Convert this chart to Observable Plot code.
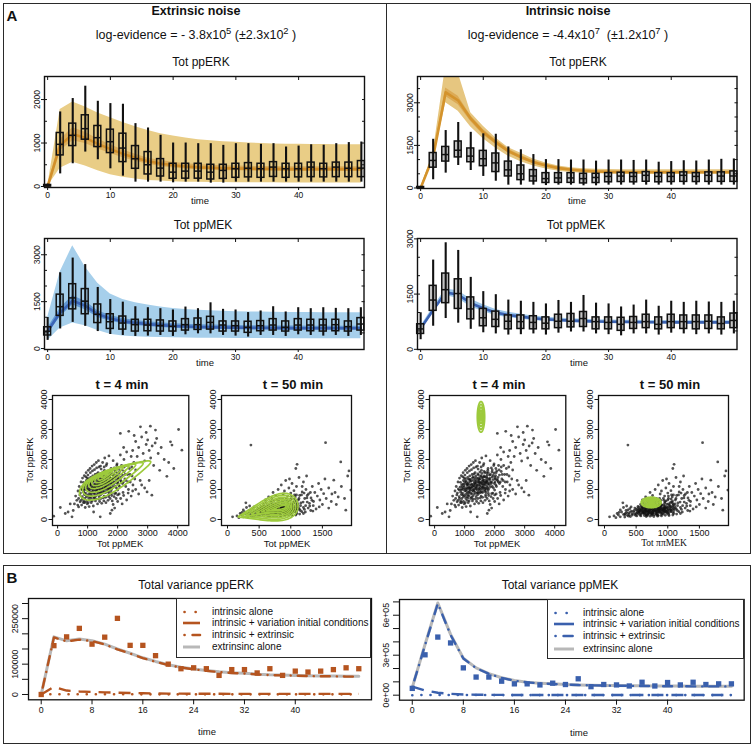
<!DOCTYPE html>
<html><head><meta charset="utf-8">
<script src="https://cdn.jsdelivr.net/npm/d3@7"></script>
<script src="https://cdn.jsdelivr.net/npm/@observablehq/plot@0.6"></script>
<style>
body{margin:0;background:#fff;}
#root{position:relative;width:754px;height:746px;overflow:hidden;font-family:"Liberation Sans",Arial,Helvetica,sans-serif;color:#111;background:#fff;}
.t{position:absolute;white-space:nowrap;transform:translate(-50%,-50%);line-height:1;}
.l{position:absolute;white-space:nowrap;transform:translate(0,-50%);line-height:1;}
.bx{position:absolute;border:1.5px solid #2a2a2a;box-sizing:border-box;}
sup{font-size:0.75em;vertical-align:0.5em;line-height:0;}
</style></head><body><div id="root"></div>
<script>
// ---------------- DATA ----------------
const times = [0,2,4,6,8,10,12,14,16,18,20,22,24,26,28,30,32,34,36,38,40,42,44,46,48,50];

// experimental boxplots (Tot ppERK)
const erkLo  = [0, 290, 523, 792, 615, 407, 238, 100, 100, 100, 85, 100, 100, 77, 77, 100, 100, 100, 100, 100, 100, 100, 100, 100, 100, 100];
const erkQ1  = [0, 715, 930, 1077, 907, 769, 561, 407, 277, 230, 177, 180, 180, 161, 175, 200, 210, 200, 220, 200, 210, 215, 210, 215, 215, 215];
const erkMed = [15, 970, 1177, 1330, 1123, 1030, 884, 638, 500, 423, 330, 354, 354, 330, 370, 408, 420, 408, 446, 408, 408, 446, 408, 446, 420, 423];
const erkQ3  = [35, 1231, 1446, 1638, 1392, 1307, 1215, 930, 792, 630, 523, 523, 523, 500, 500, 523, 538, 523, 560, 523, 523, 550, 523, 550, 550, 585];
const erkHi  = [55, 1715, 2023, 2307, 1960, 1907, 1892, 1446, 1346, 1177, 1000, 1000, 985, 985, 946, 985, 985, 970, 985, 908, 930, 960, 950, 985, 1010, 1023];
// experimental boxplots (Tot ppMEK)
const mekLo  = [261, 627, 836, 710, 543, 449, 418, 387, 397, 418, 387, 439, 470, 470, 418, 397, 366, 418, 418, 387, 439, 418, 397, 418, 387, 418];
const mekQ1  = [418, 1045, 1254, 1097, 815, 627, 606, 543, 553, 543, 543, 575, 596, 606, 543, 543, 502, 553, 575, 543, 575, 553, 543, 553, 543, 575];
const mekMed = [554, 1338, 1620, 1515, 1097, 857, 815, 763, 752, 731, 710, 763, 763, 836, 752, 731, 679, 731, 752, 679, 752, 752, 752, 763, 700, 784];
const mekQ3  = [680, 1724, 2058, 1902, 1410, 1097, 1024, 920, 920, 899, 867, 940, 961, 1014, 867, 867, 857, 878, 940, 867, 940, 920, 920, 920, 867, 972];
const mekHi  = [993, 2424, 2894, 2686, 1954, 1567, 1484, 1337, 1306, 1275, 1233, 1327, 1275, 1463, 1254, 1233, 1150, 1202, 1337, 1170, 1306, 1275, 1306, 1285, 1275, 1306];

// extrinsic-noise model, ppERK
const extErkMean  = [0, 950, 1200, 1120, 980, 860, 750, 660, 580, 530, 490, 460, 440, 430, 420, 415, 410, 405, 405, 400, 400, 400, 400, 400, 400, 400];
const extErkInLo  = [0, 820, 1050, 990, 870, 760, 660, 580, 510, 460, 425, 400, 385, 375, 365, 360, 355, 350, 350, 345, 345, 345, 345, 345, 345, 345];
const extErkInHi  = [0, 1080, 1350, 1250, 1090, 960, 840, 740, 650, 600, 555, 525, 505, 490, 480, 470, 465, 460, 460, 455, 455, 455, 455, 455, 455, 455];
const extErkOutLo = [0, 420, 560, 470, 360, 270, 210, 170, 140, 125, 110, 100, 95, 92, 90, 88, 86, 85, 84, 83, 82, 82, 81, 80, 80, 80];
const extErkOutHi = [0, 1769, 1946, 1830, 1692, 1580, 1470, 1375, 1290, 1215, 1161, 1115, 1077, 1050, 1030, 1015, 1000, 990, 980, 972, 969, 966, 964, 962, 961, 960];
// extrinsic-noise model, ppMEK
const extMekMean  = [550, 1150, 1530, 1370, 1100, 960, 870, 820, 780, 750, 720, 705, 690, 680, 675, 670, 665, 660, 655, 652, 650, 650, 650, 650, 650, 650];
const extMekInLo  = [460, 1020, 1390, 1240, 990, 870, 790, 740, 705, 675, 650, 635, 620, 612, 605, 600, 595, 592, 590, 588, 586, 585, 585, 585, 585, 585];
const extMekInHi  = [650, 1290, 1690, 1510, 1210, 1060, 960, 900, 860, 825, 795, 775, 760, 750, 742, 736, 730, 726, 722, 720, 718, 716, 715, 715, 715, 715];
const extMekOutLo = [260, 658, 815, 731, 575, 460, 400, 375, 360, 350, 342, 336, 332, 328, 325, 322, 320, 318, 317, 316, 315, 314, 314, 313, 313, 313];
const extMekOutHi = [993, 2450, 3290, 2612, 2090, 1745, 1567, 1463, 1390, 1330, 1280, 1250, 1225, 1205, 1190, 1180, 1172, 1166, 1160, 1156, 1153, 1150, 1148, 1147, 1146, 1145];
// intrinsic-noise model, ppERK
const intErkMean  = [0, 1100, 3370, 3080, 2440, 1965, 1610, 1300, 1085, 910, 790, 700, 640, 605, 580, 565, 558, 556, 555, 555, 555, 555, 555, 555, 555, 555];
const intErkInLo  = [0, 1040, 3220, 2930, 2340, 1870, 1530, 1230, 1020, 860, 745, 660, 605, 570, 545, 530, 523, 521, 520, 520, 520, 520, 520, 520, 520, 520];
const intErkInHi  = [0, 1160, 3520, 3230, 2540, 2060, 1690, 1370, 1150, 960, 835, 740, 675, 640, 615, 600, 593, 590, 589, 589, 589, 589, 589, 589, 589, 589];
const intErkOutLo = [0, 950, 3000, 2700, 2150, 1730, 1400, 1120, 920, 770, 665, 590, 545, 515, 498, 490, 485, 482, 480, 480, 480, 480, 480, 480, 480, 480];
const intErkOutHi = [0, 1250, 4300, 4050, 2650, 2170, 1760, 1420, 1220, 1020, 880, 770, 710, 680, 660, 650, 645, 642, 640, 640, 640, 640, 640, 640, 640, 640];
// intrinsic-noise model, ppMEK
const intMekMean  = [567, 1070, 1546, 1482, 1253, 1116, 997, 933, 887, 842, 814, 795, 778, 765, 755, 750, 745, 740, 737, 735, 733, 732, 732, 732, 732, 732];
const intMekOutLo = [520, 990, 1460, 1380, 1150, 1025, 915, 862, 820, 780, 758, 740, 726, 715, 706, 702, 698, 693, 690, 688, 686, 685, 685, 685, 685, 685];
const intMekOutHi = [620, 1150, 1640, 1590, 1360, 1210, 1080, 1005, 955, 905, 870, 850, 830, 815, 805, 798, 792, 788, 784, 782, 780, 779, 779, 779, 779, 779];

// single-cell measurements [Tot ppMEK, Tot ppERK]
const cellsT4 = [
[820,760],[870,910],[900,1020],[940,820],[980,1120],[1010,950],[1040,700],[1060,1230],[1090,880],[1110,1050],
[1130,1340],[1150,790],[1180,1160],[1200,980],[1220,1280],[1240,860],[1260,1090],[1280,1420],[1300,940],[1320,1200],
[1340,1050],[1360,1330],[1380,760],[1400,1140],[1420,980],[1440,1260],[1460,1480],[1480,870],[1500,1100],[1520,1350],
[1540,1000],[1560,1220],[1580,1540],[1600,900],[1620,1150],[1640,1300],[1660,1060],[1680,1420],[1700,820],[1720,1250],
[1740,1100],[1760,1380],[1780,960],[1800,1200],[850,1080],[910,700],[960,1300],[1000,1180],[1030,840],[1070,1000],
[1100,1400],[1120,720],[1160,930],[1190,1270],[1230,1060],[1250,1500],[1270,780],[1310,1120],[1330,1390],[1350,900],
[1390,1220],[1410,1060],[1430,820],[1450,1330],[1470,1180],[1490,960],[1510,1580],[1530,1240],[1550,780],[1570,1090],
[1590,1390],[1610,1000],[1630,1240],[1650,1600],[1670,940],[1690,1160],[1710,1330],[1730,1010],[1750,1480],[1770,1180],
[1790,870],[950,1000],[1080,1150],[1170,1050],[1290,1000],[1370,1450],[1470,1020],[1580,1180],[1690,1040],[1760,1260],
[900,1150],[930,880],[970,1060],[1000,780],[1030,1350],[1060,940],[1090,1180],[1110,820],[1140,1080],[1170,1450],
[1200,870],[1230,1150],[1260,960],[1290,1300],[1320,840],[1350,1180],[1380,1020],[1410,1380],[1440,900],[1470,1260],
[1500,1040],[1530,1430],[1560,920],[1590,1280],[1620,1080],[1650,1450],[1680,980],[1710,1220],[1740,1560],[1770,1060],
[1800,1340],[1830,1150],[1860,1500],[1890,1200],[1920,1650],[1950,1330],[1980,1550],[2010,1250],[2040,1700],[2070,1330],
[1000,1250],[1060,1060],[1130,1230],[1190,1340],[1250,1180],[1310,1520],[1370,1280],[1430,1140],[1490,1330],[1550,1460],
[1610,1320],[1670,1240],[1730,1420],[1790,1560],[1850,1380],[880,980],[940,1180],[1160,1000],[1340,1240],[1520,1150],
[760,880],[790,1020],[830,700],[860,1240],[890,830],[920,1090],[960,760],[990,1380],[1020,1010],[1050,1280],
[1080,760],[1110,1160],[1140,900],[1170,1330],[1200,1060],[1230,740],[1260,1380],[1290,1130],[1320,980],[1350,1560],
[1380,1090],[1410,880],[1440,1520],[1470,1380],[1500,1230],[1530,900],[1560,1640],[1590,1060],[1620,1410],[1650,1170],
[1680,1560],[1710,900],[1740,1280],[1770,1640],[1800,1020],[1830,1480],[1860,1250],[1890,1720],[1920,1100],[1950,1470],
[1980,1850],[2010,1400],[2040,1150],[2070,1620],[2100,1300],[2130,1800],[2160,1480],[2190,1250],[2220,1750],[2250,1500],
[940,1420],[1010,1480],[1090,1560],[1160,1620],[1230,1660],[1300,1720],[1380,1750],[1450,1680],[1550,1750],[1620,1800],
[700,700],[740,820],[780,640],[820,980],[870,620],[900,560],[960,600],[1020,560],[1080,640],[1150,620],
[1210,700],[1280,680],[1360,680],[1440,700],[1520,720],[1600,740],[1700,760],[1800,800],[1900,860],[2000,820],
[560,520],[600,780],[640,640],[680,950],[700,420],[720,1100],[750,590],[780,1250],[800,480],[830,1380],
[860,560],[890,1460],[920,400],[950,1560],[990,520],[1020,1640],[1050,430],[1080,1700],[1120,560],[1150,1780],
[1190,450],[1220,1830],[1260,620],[1290,1900],[1330,520],[1360,1960],[1400,600],[1430,1780],[1470,540],[1500,1900],
[1540,620],[1570,2050],[1610,560],[1640,1860],[1680,640],[1710,2120],[1750,700],[1780,1700],[1820,620],[1850,1960],
[1880,760],[1910,1580],[1940,880],[1970,1800],[2000,980],[2030,1460],[2060,1100],[2090,2150],[2120,1250],[2150,1650],
[2180,900],[2210,2000],[2240,1350],[2270,1100],[2300,1800],[2330,1500],[2360,1000],[2390,1700],[2420,1250],[2450,2100],
[2480,1450],[2510,1150],[2540,1900],[2570,1350],[2600,1650],[1900,1250],[1960,1050],[2020,1350],[1860,1080],[1920,1420],
[1840,1330],[1990,1200],[2050,1560],[2110,1400],[2160,1200],[2220,1600],[2280,1300],[2350,1250],[2410,1500],[2470,1750],
[2090,2870],[2370,2940],[2760,3090],[3090,3110],[3260,2980],[4030,3000],[4140,2310],[3810,2480],[3870,1700],[3640,1440],
[3400,1640],[3760,2590],[2200,2400],[2300,2250],[2500,2300],[2600,2600],[2650,2100],[2700,2400],[2800,2750],[2850,2200],
[2900,1950],[2950,2500],[3000,2650],[3050,2300],[3100,2050],[3150,2450],[3200,1800],[3300,2700],[3350,2200],[3450,2400],
[3550,2000],[2550,2800],[2950,2900],[3250,2550],[3700,1900],
[1850,500],[1900,380],[1950,700],[2000,600],[2050,850],[2100,700],[2150,520],[2200,800],[2300,650],[2350,880],
[2450,780],[2500,950],[2600,1000],[2700,850],[2800,1150],[2900,1050],[2980,920],[3140,810],[3050,1300],[2750,1300],
[-130,110],[90,400],[255,200],[480,90],[670,480],[1420,90],[1755,200],[1810,310],[350,250],[420,520],[520,300],[1200,250]
];
const cellsT50 = [
[460,250],[480,180],[500,330],[520,220],[540,400],[560,150],[570,290],[590,360],[600,210],[620,470],
[630,130],[640,310],[660,250],[670,420],[690,180],[700,350],[710,520],[720,240],[740,300],[750,140],
[760,450],[770,220],[780,380],[800,280],[810,560],[820,170],[830,330],[850,420],[860,230],[870,610],
[880,300],[900,160],[910,480],[920,360],[940,250],[950,540],[960,320],[980,420],[990,200],[1000,650],
[1010,350],[1030,480],[1050,260],[1060,580],[1080,400],[1100,300],[480,380],[510,120],[530,300],[550,270],
[580,430],[610,330],[650,190],[680,300],[700,230],[730,410],[740,210],[760,330],[790,160],[800,480],
[820,260],[840,370],[850,140],[870,340],[890,450],[900,260],[930,300],[940,420],[970,280],[990,510],
[1020,230],[1040,390],[1070,330],[1090,500],[560,350],[600,280],[640,390],[680,240],[720,460],[760,270],
[790,410],[830,200],[860,500],[890,370],[930,180],[960,450],[1000,300],[1040,560],[1080,240],[1110,440],
[620,200],[660,360],[700,290],[740,520],[780,310],[820,440],[860,300],[900,400],[950,360],[1010,430],
[500,200],[520,360],[545,250],[575,180],[590,420],[615,260],[635,340],[655,150],[675,380],[695,270],
[715,330],[735,180],[755,390],[775,250],[795,340],[815,210],[835,470],[855,270],[875,390],[895,220],
[915,330],[935,480],[955,240],[975,370],[995,290],[1015,520],[1035,300],[1055,420],[1075,550],[1095,360],
[560,230],[600,380],[640,280],[680,160],[720,380],[760,200],[800,380],[840,260],[880,460],[920,280],
[960,390],[1000,230],[1040,340],[1080,470],[1120,380],[650,420],[700,460],[750,240],[850,360],[950,290],
[580,320],[620,240],[660,300],[700,200],[740,360],[780,440],[820,320],[860,410],[900,320],[940,380],
[320,160],[350,230],[380,110],[410,250],[440,190],[470,300],[490,140],[515,270],[535,190],[555,330],
[575,120],[595,250],[615,390],[635,210],[655,280],[675,130],[695,410],[715,280],[735,350],[755,170],
[775,300],[795,460],[815,280],[835,150],[855,330],[875,250],[895,500],[915,200],[935,340],[955,580],
[975,250],[995,380],[1015,170],[1035,440],[1055,300],[1075,620],[1095,200],[1115,520],[1135,350],[1155,460],
[1175,260],[1195,580],[1215,340],[1235,460],[1255,720],[1275,380],[1295,540],[1315,300],[1335,640],[1355,460],
[530,440],[570,500],[610,560],[650,500],[690,560],[730,620],[770,540],[810,620],[850,580],[890,640],
[930,700],[970,620],[1010,780],[1050,680],[1090,820],[1130,700],[1170,820],[1210,880],[1260,800],[1310,900],
[660,100],[720,110],[780,100],[840,110],[900,120],[960,140],[1020,130],[1080,150],[1140,180],[1200,200],
[80,90],[200,200],[290,555],[150,120],[180,60],[220,150],[250,90],[270,250],[300,170],[320,80],
[340,300],[360,140],[380,220],[400,360],[410,100],[430,280],[250,320],[300,400],[350,450],[390,170],
[420,420],[440,150],[230,240],[330,200],[370,320],
[1120,650],[1140,800],[1160,550],[1180,920],[1200,400],[1220,700],[1240,1000],[1260,580],[1280,850],[1300,450],
[1320,720],[1340,1100],[1360,600],[1380,900],[1400,350],[1420,780],[1440,1200],[1460,650],[1480,1000],[1500,500],
[1520,860],[1540,1350],[1560,700],[1600,1050],[1640,600],[1680,1310],[1700,900],[1750,750],[1800,1100],[1870,310],
[1950,980],[1920,1620],[1790,1920],[1550,2560],[370,2480],[1100,1840],[1080,1700],[1130,1400],[1200,1250],[1250,1450],
[1150,300],[1230,250],[1350,280],[1450,420],[1600,380],[1650,850],[1720,500],[1850,700],[1900,1450],[1180,1100],
[600,650],[650,750],[700,700],[720,900],[760,800],[800,1000],[820,700],[850,1150],[880,850],[900,950],
[920,1300],[950,780],[970,1050],[1000,880],[1020,1200],[1050,960],[1070,750],[1090,1100],[680,600],[780,650],
[870,700],[940,640],[1010,700],[1060,820],[980,1350]
];

// model density contours: [MEK end1, ERK end1, MEK end2, ERK end2, half-width (px), egg skew]
const contExtT4 = [
[750,800,3100,1930,10.5,-0.5],[850,900,2850,1880,8.7,-0.5],[950,1000,2600,1830,7.0,-0.5],[1050,1100,2380,1780,5.5,-0.5],
[1150,1180,2180,1730,4.2,-0.5],[1250,1260,2000,1680,3.0,-0.5],[1350,1330,1850,1640,1.8,-0.5],[1450,1400,1720,1590,0.9,-0.5]
];
const contExtT50 = [
[170,90,1110,540,11,0.8],[230,120,1075,520,9.5,0.8],[300,150,1045,500,8,0.8],[380,185,1015,485,6.6,0.8],
[460,220,990,470,5.2,0.8],[540,255,965,460,3.8,0.8],[620,290,945,450,2.5,0.8],[700,320,925,440,1.3,0.8]
];
const contIntT4 = [
[1545,2910,1545,3930,3.7,0],[1545,3000,1545,3840,2.8,0],[1545,3100,1545,3740,2.0,0],[1545,3200,1545,3640,1.2,0],[1545,3310,1545,3530,0.5,0]
];
const contIntT50 = [
[579,567,895,567,5.3,0],[603,567,871,567,4.5,0],[626,567,848,567,3.7,0],[650,567,824,567,2.9,0],
[674,567,800,567,2.1,0],[694,567,780,567,1.4,0],[713,567,761,567,0.8,0]
];

// Panel B: total variance
const erkVarData   = [0, 161000, 190000, 218000, 166000, 189000, 251000, 162000, 162000, 128000, 100000, 85000, 88000, 85000, 63000, 82000, 82000, 71000, 85000, 63000, 77000, 74000, 77000, 82000, 88000, 85000];
const erkVarExt    = [0, 190000, 177000, 183000, 177000, 166000, 150000, 136000, 121000, 109000, 98000, 90000, 84000, 79000, 75000, 72000, 70000, 67000, 65000, 64000, 63000, 62000, 61000, 61000, 60000, 60000];
const erkVarIntExt = [0, 188000, 175000, 181000, 176000, 165000, 149000, 135000, 120000, 108000, 97000, 89000, 83000, 78000, 74000, 71000, 69000, 66000, 64000, 63000, 62000, 61000, 60000, 60000, 59000, 59000];
const erkVarIntIC  = [0, 25000, 13000, 10000, 8500, 7000, 6000, 5000, 4000, 3500, 3000, 3000, 2500, 2500, 2500, 2000, 2000, 2000, 2000, 2000, 2000, 2000, 2000, 2000, 2000, 2000];
const erkVarInt    = [0, 1000, 1000, 900, 800, 700, 600, 600, 500, 500, 500, 500, 500, 500, 500, 500, 500, 500, 500, 500, 500, 500, 500, 500, 500, 500];
const mekVarData   = [51000, 303000, 436000, 392000, 205000, 136000, 136000, 105000, 85000, 85000, 77000, 90000, 80000, 123000, 64000, 80000, 77000, 69000, 97000, 69000, 95000, 77000, 97000, 80000, 85000, 85000];
const mekVarExt    = [59000, 380000, 692000, 456000, 277000, 205000, 162000, 131000, 110000, 97000, 90000, 85000, 80000, 77000, 75000, 73000, 72000, 71000, 70000, 69000, 68000, 68000, 67000, 67000, 67000, 67000];
const mekVarIntExt = [60000, 375000, 688000, 452000, 275000, 203000, 160000, 130000, 109000, 96000, 89000, 84000, 79000, 76000, 74000, 72000, 71000, 70000, 69000, 68000, 67000, 67000, 66000, 66000, 66000, 66000];
const mekVarIntIC  = [64000, 35000, 18000, 10000, 5000, 3500, 2500, 2000, 1500, 1500, 1500, 1500, 1500, 1500, 1500, 1500, 1500, 1500, 1500, 1500, 1500, 1500, 1500, 1500, 1500, 1500];
const mekVarInt    = [0, 1500, 1500, 1200, 1000, 900, 800, 700, 700, 600, 600, 600, 600, 600, 600, 600, 600, 600, 600, 600, 600, 600, 600, 600, 600, 600];

const legendLabels = ["intrinsic alone", "intrinsic + variation initial conditions", "intrinsic + extrinsic", "extrinsinc alone"];
const tsXTicks = [0,10,20,30,40];
const bXTicks = [0,8,16,24,32,40];
const bErkYTicks = [0,50000,100000,150000,200000,250000,300000];
const bErkYLabels = ["0","","100000","","","250000",""];
const bMekYTicks = [0,100000,200000,300000,400000,500000,600000,700000];
const bMekYLabels = ["0e+00","","","3e+05","","","6e+05",""];

// ---------------- HELPERS ----------------
const root = document.getElementById("root");
const FONT = "Liberation Sans, Arial, Helvetica, sans-serif";
function addText(html, x, y, size, o = {}) {
  const d = document.createElement("div");
  d.className = o.left ? "l" : "t";
  d.innerHTML = html;
  d.style.left = x + "px"; d.style.top = y + "px"; d.style.fontSize = size + "px";
  if (o.bold) d.style.fontWeight = "bold";
  if (o.family) d.style.fontFamily = o.family;
  if (o.rotate) d.style.transform = `translate(-50%,-50%) rotate(${o.rotate}deg)`;
  root.appendChild(d);
  return d;
}
function addBox(x0, y0, x1, y1, extra = "") {
  const d = document.createElement("div");
  d.className = "bx";
  d.style.cssText = `left:${x0}px;top:${y0}px;width:${x1 - x0}px;height:${y1 - y0}px;${extra}`;
  root.appendChild(d);
  return d;
}
function placePlot(frame, pad, opts) {
  const [x0, y0, x1, y1] = frame, [pl, pt, pr, pb] = pad;
  const svg = Plot.plot({
    width: x1 - x0 + pl + pr, height: y1 - y0 + pt + pb,
    marginLeft: pl, marginTop: pt, marginRight: pr, marginBottom: pb,
    style: {background: "transparent", fontFamily: FONT, fontSize: opts.fontSize || "8.5px", color: "#111", overflow: "visible"},
    ...opts
  });
  svg.style.position = "absolute";
  svg.style.left = (x0 - pl) + "px";
  svg.style.top = (y0 - pt) + "px";
  svg.style.maxWidth = "none";
  root.appendChild(svg);
}

function tsPlot({frame, yDomain, yTicks, minor, band, box, boxFill, col}) {
  const marks = [
    Plot.areaY(band, {x: "t", y1: "olo", y2: "ohi", fill: col.outer, clip: true}),
  ];
  if (band[0].ilo !== undefined) marks.push(Plot.areaY(band, {x: "t", y1: "ilo", y2: "ihi", fill: col.inner, clip: true}));
  marks.push(Plot.line(band, {x: "t", y: "m", stroke: col.line, strokeWidth: 2.6, clip: true}));
  const w = 0.55;
  if (boxFill) marks.push(Plot.rect(box, {x1: d => d.t - w, x2: d => d.t + w, y1: "q1", y2: "q3", fill: boxFill}));
  marks.push(
    Plot.ruleX(box, {x: "t", y1: "lo", y2: "hi", stroke: "#111", strokeWidth: 2.1}),
    Plot.rect(box, {x1: d => d.t - w, x2: d => d.t + w, y1: "q1", y2: "q3", fill: "none", stroke: "#111", strokeWidth: 1.5}),
    Plot.ruleY(box, {y: "med", x1: d => d.t - w, x2: d => d.t + w, stroke: "#111", strokeWidth: 1.5}),
    Plot.frame({stroke: "#111", strokeWidth: 1.4}),
    Plot.axisX({ticks: tsXTicks, tickSize: 3, tickPadding: 1.5, tickFormat: "d", label: null}),
    Plot.axisX({anchor: "top", ticks: tsXTicks, tickSize: -3, tickFormat: () => "", label: null}),
    Plot.axisY({ticks: yTicks, tickSize: 3, tickPadding: 2, tickRotate: -90, tickFormat: "d", label: null}),
    Plot.axisY({anchor: "right", ticks: minor, tickSize: -3, tickFormat: () => "", label: null}),
    Plot.axisY({anchor: "left", ticks: minor, tickSize: -3, tickFormat: () => "", label: null})
  );
  placePlot(frame, [26, 6, 6, 16], {x: {domain: [-0.5, 50.5]}, y: {domain: yDomain}, marks});
}

function contourPoints(recs, sx, sy) {
  const out = [];
  recs.forEach((r, id) => {
    const [x1, y1, x2, y2, b, k] = r;
    const cx = (x1 + x2) / 2, cy = (y1 + y2) / 2, ux = (x2 - x1) / 2, uy = (y2 - y1) / 2;
    const px = ux * sx, py = uy * sy, L = Math.hypot(px, py);
    const vx = (-py / L * b) / sx, vy = (px / L * b) / sy;
    for (let i = 0; i < 80; i++) {
      const th = i / 80 * 2 * Math.PI, c = Math.cos(th), s = Math.sin(th) * (1 + k * c);
      out.push({id, x: cx + ux * c + vx * s, y: cy + uy * c + vy * s});
    }
  });
  return out;
}
function scPlot({frame, xDomain, xTicks, cells, contours}) {
  const yDomain = [-200, 4133];
  const sx = (frame[2] - frame[0]) / (xDomain[1] - xDomain[0]);
  const sy = (frame[3] - frame[1]) / (yDomain[1] - yDomain[0]);
  const cdata = contourPoints(contours, sx, sy);
  placePlot(frame, [26, 6, 6, 16], {
    fontSize: "9px",
    x: {domain: xDomain}, y: {domain: yDomain},
    marks: [
      Plot.dot(cells, {x: d => d[0], y: d => d[1], r: 1.4, fill: "#111", fillOpacity: 0.72, stroke: null, clip: true}),
      Plot.line(cdata, {x: "x", y: "y", z: "id", stroke: "#9dca3c", strokeWidth: 1.7, curve: "linear-closed"}),
      Plot.frame({stroke: "#111", strokeWidth: 1.3}),
      Plot.axisX({ticks: xTicks, tickSize: 3.5, tickPadding: 1, tickFormat: "d", label: null}),
      Plot.axisY({ticks: [0, 1000, 2000, 3000, 4000], tickSize: 3.5, tickPadding: 2.5, tickRotate: -90, tickFormat: "d", label: null})
    ]
  });
}

function varPlot({frame, yDomain, yTicks, yLabels, rows, color}) {
  placePlot(frame, [32, 6, 6, 18], {
    fontSize: "8.8px",
    x: {domain: [-2, 52]}, y: {domain: yDomain},
    marks: [
      Plot.line(rows, {x: "t", y: "ext", stroke: "#b8b8b8", strokeWidth: 3}),
      Plot.line(rows, {x: "t", y: "intExt", stroke: color, strokeWidth: 2.4, strokeDasharray: "0.1,7,9,7", strokeLinecap: "round"}),
      Plot.line(rows, {x: "t", y: "intIC", stroke: color, strokeWidth: 2.4, strokeDasharray: "12,8", strokeLinecap: "butt"}),
      Plot.line(rows, {x: "t", y: "int", stroke: color, strokeWidth: 2.6, strokeDasharray: "0.1,9", strokeLinecap: "round"}),
      Plot.dot(rows, {x: "t", y: "data", symbol: "square", r: 3, fill: color, stroke: null}),
      Plot.frame({stroke: "#111", strokeWidth: 1.3}),
      Plot.axisX({ticks: bXTicks, tickSize: 5, tickPadding: 2, tickFormat: "d", label: null}),
      Plot.axisY({ticks: yTicks, tickSize: 6, tickPadding: 5, tickRotate: -90, tickFormat: (d) => yLabels[yTicks.indexOf(d)], label: null})
    ]
  });
}

function legend(x0, y0, x1, y1, color, sx0, sx1, tx) {
  addBox(x0, y0, x1, y1, "background:#fff;border-width:1.3px;");
  const rowsY = [13.7, 24.7, 37, 49.3];
  const styles = [
    {stroke: color, w: 2.6, dash: "0.1,11", cap: "round"},
    {stroke: color, w: 2.6, dash: "none", cap: "butt"},
    {stroke: color, w: 2.6, dash: "0.1,8,9,8", cap: "round"},
    {stroke: "#b8b8b8", w: 3, dash: "none", cap: "butt"}
  ];
  rowsY.forEach((ry, i) => {
    const s = styles[i];
    const svgNS = "http://www.w3.org/2000/svg";
    const sv = document.createElementNS(svgNS, "svg");
    sv.setAttribute("width", sx1 - sx0 + 4); sv.setAttribute("height", 8);
    sv.style.cssText = `position:absolute;left:${sx0 - 2}px;top:${y0 + ry - 4}px;overflow:visible`;
    const ln = document.createElementNS(svgNS, "line");
    ln.setAttribute("x1", i === 0 || i === 2 ? 3.5 : 2); ln.setAttribute("x2", sx1 - sx0 + 2);
    ln.setAttribute("y1", 4); ln.setAttribute("y2", 4);
    ln.setAttribute("stroke", s.stroke); ln.setAttribute("stroke-width", s.w);
    ln.setAttribute("stroke-linecap", s.cap);
    if (s.dash !== "none") ln.setAttribute("stroke-dasharray", s.dash);
    sv.appendChild(ln);
    root.appendChild(sv);
    addText(legendLabels[i], tx, y0 + ry, 10, {left: true});
  });
}

// ---------------- PANEL A ----------------
addBox(3, 3, 751, 554);
const divider = document.createElement("div");
divider.style.cssText = "position:absolute;left:385.5px;top:3px;width:1.5px;height:551px;background:#2a2a2a;";
root.appendChild(divider);
addText("A", 12, 15, 15, {bold: true});

addText("Extrinsic noise", 196, 11, 12.5, {bold: true});
addText("log-evidence = - 3.8x10<sup>5</sup> (&plusmn;2.3x10<sup>2</sup> )", 196, 35, 12.5);
addText("Intrinsic noise", 568, 11, 12.5, {bold: true});
addText("log-evidence = -4.4x10<sup>7</sup>&nbsp; (&plusmn;1.2x10<sup>7</sup> )", 568, 35, 12.5);

addText("Tot ppERK", 201, 62, 12);
addText("Tot ppERK", 578, 62, 12);
addText("Tot ppMEK", 203, 225, 12);
addText("Tot ppMEK", 576, 225, 12);

const mk = (lo, q1, med, q3, hi) => times.map((t, i) => ({t, lo: lo[i], q1: q1[i], med: med[i], q3: q3[i], hi: hi[i]}));
const erkBox = mk(erkLo, erkQ1, erkMed, erkQ3, erkHi);
const mekBox = mk(mekLo, mekQ1, mekMed, mekQ3, mekHi);
const bandOf = (m, ilo, ihi, olo, ohi) => times.map((t, i) => ({t, m: m[i], ilo: ilo ? ilo[i] : undefined, ihi: ihi ? ihi[i] : undefined, olo: olo[i], ohi: ohi[i]}));

const gold = {outer: "#e9cd86", inner: "#dcae5c", line: "#d28f2a"};
const blue = {outer: "#a6cfeb", inner: "#6298d3", line: "#3a64b6"};

tsPlot({frame: [43.5, 76, 363.5, 187], yDomain: [-23, 2530], yTicks: [0, 1000, 2000], minor: [500, 1000, 1500, 2000],
  band: bandOf(extErkMean, extErkInLo, extErkInHi, extErkOutLo, extErkOutHi), box: erkBox, boxFill: null, col: gold});
tsPlot({frame: [416.5, 76, 736, 188], yDomain: [-18, 3926], yTicks: [0, 1500, 3000], minor: [500, 1000, 1500, 2000, 2500, 3000, 3500],
  band: bandOf(intErkMean, intErkInLo, intErkInHi, intErkOutLo, intErkOutHi), box: erkBox, boxFill: "#c4c4c4",
  col: {outer: "#e6c680", inner: "#dcaa55", line: "#d4932c"}});
tsPlot({frame: [44, 238, 363.5, 349], yDomain: [-31, 3520], yTicks: [0, 1500, 3000], minor: [500, 1000, 1500, 2000, 2500, 3000],
  band: bandOf(extMekMean, extMekInLo, extMekInHi, extMekOutLo, extMekOutHi), box: mekBox, boxFill: null, col: blue});
tsPlot({frame: [416.5, 238, 736, 349], yDomain: [-5, 3010], yTicks: [0, 1500, 3000], minor: [500, 1000, 1500, 2000, 2500],
  band: bandOf(intMekMean, null, null, intMekOutLo, intMekOutHi), box: mekBox, boxFill: "#c4c4c4",
  col: {outer: "#9cc6ea", inner: "#6298d3", line: "#3b62b2"}});

addText("time", 200, 201, 9.5);
addText("time", 577, 201, 9.5);
addText("time", 205, 363, 9.5);
addText("time", 579, 363, 9.5);

// scatter plots
scPlot({frame: [52, 395, 188.3, 525], xDomain: [-170, 4370], xTicks: [0, 1000, 2000, 3000, 4000], cells: cellsT4, contours: contExtT4});
scPlot({frame: [220.7, 395, 350.7, 525], xDomain: [-95, 1960], xTicks: [0, 500, 1000, 1500], cells: cellsT50, contours: contExtT50});
scPlot({frame: [428.7, 395, 565, 525], xDomain: [-170, 4370], xTicks: [0, 1000, 2000, 3000, 4000], cells: cellsT4, contours: contIntT4});
scPlot({frame: [597.7, 395, 727.7, 525], xDomain: [-95, 1960], xTicks: [0, 500, 1000, 1500], cells: cellsT50, contours: contIntT50});

addText("t = 4 min", 122, 384, 13, {bold: true});
addText("t = 50 min", 293, 384, 13, {bold: true});
addText("t = 4 min", 499, 384, 13, {bold: true});
addText("t = 50 min", 670, 384, 13, {bold: true});
addText("Tot ppMEK", 120, 544, 9.5);
addText("Tot ppMEK", 287, 544, 9.5);
addText("Tot ppMEK", 497, 544, 9.5);
addText("Tot ππMEK", 664, 544, 9.5, {family: "Liberation Serif, DejaVu Serif, serif"});
addText("Tot ppERK", 30, 460, 9.5, {rotate: -90});
addText("Tot ppERK", 200, 460, 9.5, {rotate: -90});
addText("Tot ppERK", 407, 460, 9.5, {rotate: -90});
addText("Tot ppERK", 577, 460, 9.5, {rotate: -90});

// ---------------- PANEL B ----------------
addBox(3, 565, 751, 744);
addText("B", 12, 577, 15, {bold: true});
addText("Total variance ppERK", 196, 585, 12);
addText("Total variance ppMEK", 560, 585, 12);

const rowsErk = times.map((t, i) => ({t, data: erkVarData[i], ext: erkVarExt[i], intExt: erkVarIntExt[i], intIC: erkVarIntIC[i], int: erkVarInt[i]}));
const rowsMek = times.map((t, i) => ({t, data: mekVarData[i], ext: mekVarExt[i], intExt: mekVarIntExt[i], intIC: mekVarIntIC[i], int: mekVarInt[i]}));
const brown = "#b5541f", bblue = "#3a60ad";
varPlot({frame: [28, 598, 371, 699.3], yDomain: [-17500, 316500], yTicks: bErkYTicks, yLabels: bErkYLabels, rows: rowsErk, color: brown});
varPlot({frame: [399.3, 599.3, 744, 700], yDomain: [-37600, 718000], yTicks: bMekYTicks, yLabels: bMekYLabels, rows: rowsMek, color: bblue});
addText("time", 207, 732, 9.5);
addText("time", 579, 733, 9.5);

legend(176, 598, 371, 658, brown, 183, 200, 212);
legend(547, 599.3, 744, 659.3, bblue, 554, 574, 583);
</script></body></html>
